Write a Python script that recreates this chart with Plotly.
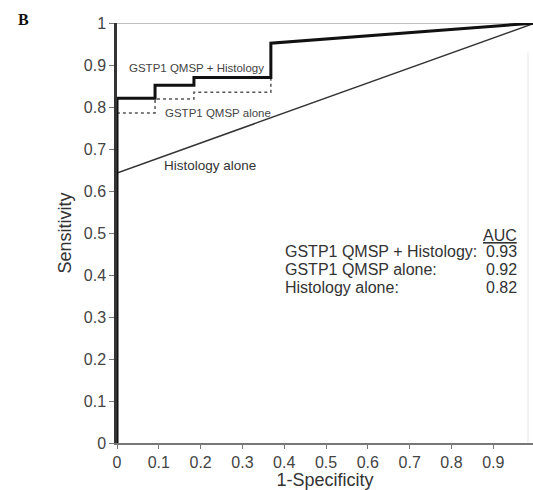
import plotly.graph_objects as go

# Data
combo_x = [0, 0, 0.091, 0.091, 0.184, 0.184, 0.368, 0.368, 1.0]
combo_y = [0, 0.821, 0.821, 0.852, 0.852, 0.870, 0.870, 0.952, 1.0]

qmsp_x = [0, 0, 0.091, 0.091, 0.184, 0.184, 0.368, 0.368, 1.0]
qmsp_y = [0, 0.786, 0.786, 0.819, 0.819, 0.835, 0.835, 0.952, 1.0]

hist_x = [0, 0, 1.0]
hist_y = [0, 0.643, 1.0]

auc_labels = ["GSTP1 QMSP + Histology:", "GSTP1 QMSP alone:", "Histology alone:"]
auc_values = ["0.93", "0.92", "0.82"]

x_ticks = [0, 0.1, 0.2, 0.3, 0.4, 0.5, 0.6, 0.7, 0.8, 0.9]
y_ticks = [0, 0.1, 0.2, 0.3, 0.4, 0.5, 0.6, 0.7, 0.8, 0.9, 1]

FONT = "Liberation Sans, Arial, sans-serif"

fig = go.Figure()
fig.add_trace(go.Scatter(x=hist_x, y=hist_y, mode="lines",
                         line=dict(color="#333333", width=1.5), showlegend=False))
fig.add_trace(go.Scatter(x=qmsp_x, y=qmsp_y, mode="lines",
                         line=dict(color="#555555", width=1.5, dash="dot"), showlegend=False))
fig.add_trace(go.Scatter(x=combo_x, y=combo_y, mode="lines",
                         line=dict(color="#111111", width=3), showlegend=False))

# frame lines (top and right)
fig.add_shape(type="line", xref="paper", yref="y", x0=0, x1=1, y0=1, y1=1,
              line=dict(color="#aaaaaa", width=1.5), layer="below")
fig.add_shape(type="line", xref="paper", yref="y", x0=0.988, x1=0.988, y0=0, y1=0.93,
              line=dict(color="#e4e4e4", width=1), layer="below")

# curve labels
fig.add_annotation(x=0.024, y=0.893, text="GSTP1 QMSP + Histology", showarrow=False,
                   xanchor="left", yanchor="middle", font=dict(size=11.5, color="#444444", family=FONT))
fig.add_annotation(x=0.11, y=0.786, text="GSTP1 QMSP alone", showarrow=False,
                   xanchor="left", yanchor="middle", font=dict(size=11.5, color="#444444", family=FONT))
fig.add_annotation(x=0.108, y=0.66, text="Histology alone", showarrow=False,
                   xanchor="left", yanchor="middle", font=dict(size=13.5, color="#333333", family=FONT))

# AUC block
fig.add_annotation(x=0.962, y=0.495, text="<u>AUC</u>", showarrow=False,
                   xanchor="right", yanchor="middle", font=dict(size=16, color="#333333", family=FONT))
ys = [0.455, 0.412, 0.371]
for lab, val, yy in zip(auc_labels, auc_values, ys):
    fig.add_annotation(x=0.397, y=yy, text=lab, showarrow=False,
                       xanchor="left", yanchor="middle", font=dict(size=16, color="#333333", family=FONT))
    fig.add_annotation(x=0.962, y=yy, text=val, showarrow=False,
                       xanchor="right", yanchor="middle", font=dict(size=16, color="#333333", family=FONT))

# Panel letter
fig.add_annotation(xref="paper", yref="paper", x=-0.242, y=1.0095, text="<b>B</b>", showarrow=False,
                   xanchor="left", yanchor="middle",
                   font=dict(size=16, color="#111111", family="Liberation Serif, Times New Roman, serif"))

fig.update_layout(
    width=533, height=490,
    margin=dict(l=117, r=0, t=23, b=47),
    plot_bgcolor="white", paper_bgcolor="white",
    font=dict(family=FONT, color="#444444", size=16),
    xaxis=dict(range=[0, 0.995], tickvals=x_ticks, ticktext=[("%g" % v) for v in x_ticks],
               showgrid=False, zeroline=False, showline=True, linecolor="#777777", linewidth=2,
               ticks="outside", ticklen=4, tickcolor="#777777",
               tickfont=dict(size=16, color="#444444"),
               title=dict(text="1-Specificity", font=dict(size=18, color="#333333"), standoff=2)),
    yaxis=dict(range=[0, 1], tickvals=y_ticks, ticktext=[("%g" % v) for v in y_ticks],
               showgrid=False, zeroline=False, showline=True, linecolor="#333333", linewidth=2.5,
               ticks="outside", ticklen=5, tickcolor="#777777",
               tickfont=dict(size=16, color="#444444"),
               title=dict(text="Sensitivity", font=dict(size=18, color="#333333"), standoff=8)),
)

fig.write_html("out.html", config={"displayModeBar": False},
               post_script="document.body.style.margin='0';document.body.style.overflow='hidden';")
